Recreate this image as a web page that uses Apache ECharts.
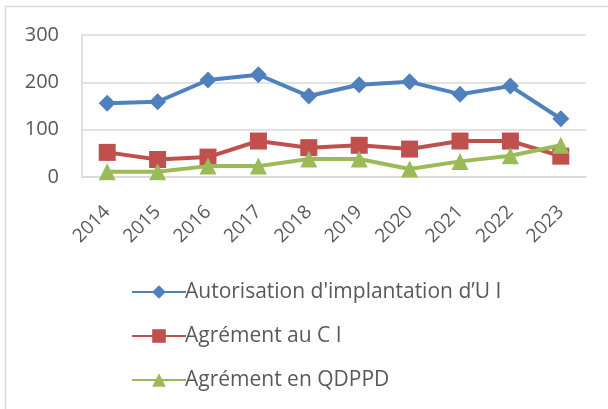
<!DOCTYPE html>
<html>
<head>
<meta charset="utf-8">
<script src="https://cdn.jsdelivr.net/npm/echarts@6/dist/echarts.min.js"></script>
<style>
  html, body { margin: 0; padding: 0; background: #fff; }
  #chart { width: 608px; height: 409px; }
</style>
</head>
<body>
<div id="chart"></div>
<script>
var years = ["2014","2015","2016","2017","2018","2019","2020","2021","2022","2023"];
var autorisation = [156, 159, 205, 216, 171, 195, 201, 175, 192, 123];
var agrementCI = [52, 37, 42, 76, 62, 67, 59, 76, 76, 44];
var agrementQDPPD = [11, 11, 23, 23, 38, 38, 17, 33, 45, 67];
var yTicks = [0, 100, 200, 300];

var names = [
  "Autorisation d'implantation d\u2019U I",
  "Agrément au C I",
  "Agrément en QDPPD"
];
var colors = ["#4F81BD", "#C0504D", "#9BBB59"];
var symbols = ["diamond", "rect", "triangle"];

var make_series = function (lists) {
  var result = [];
  lists.forEach(function (data, idx) {
    result.push({
      name: names[idx],
      type: "line",
      data: data,
      symbol: symbols[idx],
      symbolSize: 17,
      lineStyle: { color: colors[idx], width: 4 },
      itemStyle: { color: colors[idx] },
      z: 3 + idx
    });
  });
  return result;
};

var option = {
  animation: false,
  textStyle: { fontFamily: "Open Sans" },
  graphic: [{
    type: "polyline",
    shape: { points: [[5.5, 409], [5.5, 6.5], [608, 6.5]] },
    style: { fill: null, stroke: "#D9D9D9", lineWidth: 1.5 }
  }],
  grid: { left: 82, right: 22, top: 35, bottom: 232 },
  xAxis: {
    type: "category",
    data: years,
    boundaryGap: true,
    axisLine: { show: true, lineStyle: { color: "#D9D9D9", width: 1.5 } },
    axisTick: { show: false },
    axisLabel: { rotate: 45, fontSize: 19, color: "#595959", margin: 32, interval: 0 }
  },
  yAxis: {
    type: "value",
    min: yTicks[0],
    max: yTicks[yTicks.length - 1],
    interval: 100,
    axisLine: { show: true, lineStyle: { color: "#D9D9D9", width: 1.5 } },
    axisTick: { show: false },
    splitLine: { lineStyle: { color: "#D9D9D9", width: 1.5 } },
    axisLabel: { fontSize: 20, color: "#595959", margin: 23 }
  },
  legend: {
    orient: "vertical",
    left: 126,
    top: 276,
    itemWidth: 54,
    itemHeight: 17,
    itemGap: 22,
    textStyle: { fontSize: 21, lineHeight: 22, color: "#595959", padding: [0, 0, 0, -6] },
    data: names
  },
  series: make_series([autorisation, agrementCI, agrementQDPPD])
};

var chart = echarts.init(document.getElementById("chart"));
chart.setOption(option);
</script>
</body>
</html>
